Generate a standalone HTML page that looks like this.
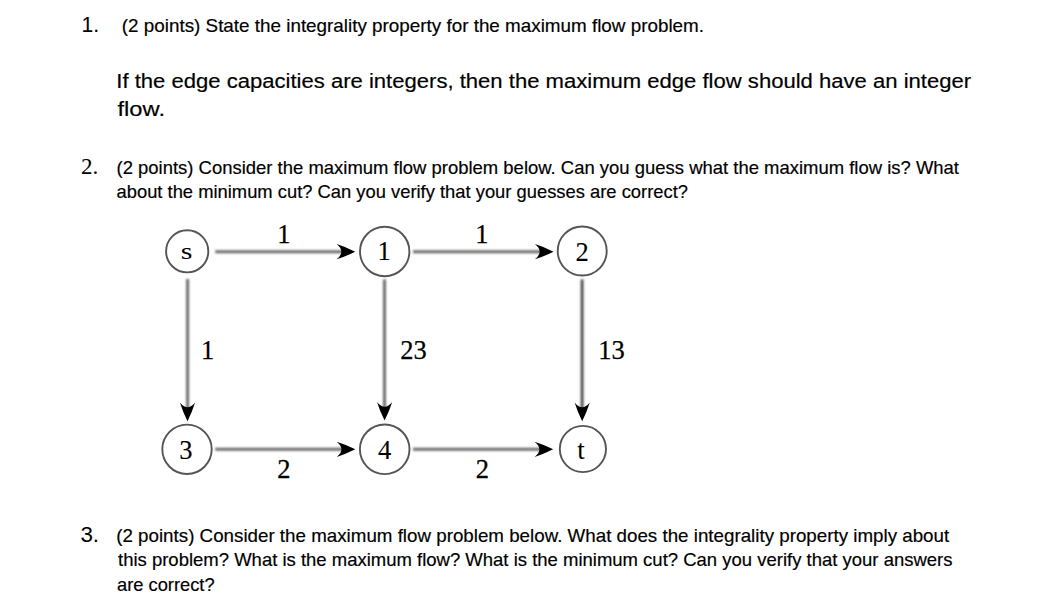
<!DOCTYPE html>
<html><head><meta charset="utf-8">
<style>
html,body{margin:0;padding:0;background:#fff;width:1057px;height:613px;overflow:hidden}
svg{display:block}
.t{font-family:"Liberation Sans",sans-serif;fill:#000;stroke:#000;stroke-width:0.18}
.m{font-family:"Liberation Serif",serif;fill:#000;stroke:#000}
.c{fill:none;stroke:#555;stroke-width:1.9}
.e{fill:none}
.h{fill:#000}
.sf{font-family:"Liberation Serif",serif;fill:#000}
.t0{font-family:"Liberation Sans",sans-serif;fill:#000}
</style></head>
<body>
<svg width="1057" height="613" viewBox="0 0 1057 613">
<text class="t0" x="81.6" y="32.2" font-size="21.5" textLength="17.6" lengthAdjust="spacingAndGlyphs">1.</text>
<text class="t" x="121.8" y="32.0" font-size="17.8" textLength="582.2" lengthAdjust="spacingAndGlyphs">(2 points) State the integrality property for the maximum flow problem.</text>
<text class="t" x="116.3" y="87.8" font-size="20.0" textLength="854.8" lengthAdjust="spacingAndGlyphs">If the edge capacities are integers, then the maximum edge flow should have an integer</text>
<text class="t" x="117.5" y="116.2" font-size="20.0" textLength="47.5" lengthAdjust="spacingAndGlyphs">flow.</text>
<text class="sf" x="81.0" y="174.2" font-size="23.0" textLength="17.3" lengthAdjust="spacingAndGlyphs">2.</text>
<text class="t" x="116.5" y="173.7" font-size="17.8" textLength="842.5" lengthAdjust="spacingAndGlyphs">(2 points) Consider the maximum flow problem below. Can you guess what the maximum flow is? What</text>
<text class="t" x="116.5" y="197.5" font-size="17.8" textLength="571.5" lengthAdjust="spacingAndGlyphs">about the minimum cut? Can you verify that your guesses are correct?</text>
<text class="t0" x="80.4" y="541.5" font-size="21.5" textLength="18.7" lengthAdjust="spacingAndGlyphs">3.</text>
<text class="t" x="116.2" y="541.5" font-size="17.8" textLength="833.0" lengthAdjust="spacingAndGlyphs">(2 points) Consider the maximum flow problem below. What does the integrality property imply about</text>
<text class="t" x="118.0" y="566.2" font-size="17.8" textLength="834.5" lengthAdjust="spacingAndGlyphs">this problem? What is the maximum flow? What is the minimum cut? Can you verify that your answers</text>
<text class="t" x="117.0" y="590.5" font-size="17.8" textLength="97.6" lengthAdjust="spacingAndGlyphs">are correct?</text>
<defs><filter id="b" filterUnits="userSpaceOnUse" x="0" y="0" width="1057" height="613"><feGaussianBlur stdDeviation="1"/></filter></defs><g>
<circle class="c" cx="187.2" cy="251.3" r="21.1"/>
<circle class="c" cx="384.7" cy="251.5" r="24.7"/>
<circle class="c" cx="582.2" cy="251" r="24.5"/>
<circle class="c" cx="187" cy="449.3" r="24.7"/>
<circle class="c" cx="384.7" cy="449.3" r="24.8"/>
<circle class="c" cx="582.9" cy="449" r="23.1"/>
<line class="e" filter="url(#b)" x1="215.2" y1="251.8" x2="345" y2="251.8" stroke="#6c6c6c" stroke-width="3.0"/>
<line class="e" filter="url(#b)" x1="413" y1="251.8" x2="543" y2="251.8" stroke="#6c6c6c" stroke-width="3.0"/>
<line class="e" filter="url(#b)" x1="215.2" y1="449.3" x2="345" y2="449.3" stroke="#6c6c6c" stroke-width="3.0"/>
<line class="e" filter="url(#b)" x1="413" y1="449.3" x2="543" y2="449.3" stroke="#6c6c6c" stroke-width="3.0"/>
<line class="e" filter="url(#b)" x1="187.6" y1="279" x2="187.6" y2="411" stroke="#6c6c6c" stroke-width="3.0"/>
<line class="e" filter="url(#b)" x1="384.5" y1="279.4" x2="384.5" y2="411" stroke="#6a6a6a" stroke-width="3.0"/>
<line class="e" filter="url(#b)" x1="582.1" y1="279.4" x2="582.1" y2="411" stroke="#383838" stroke-width="2.6"/>
<path class="h" d="M355.20 251.70 Q345.90 247.00 336.60 244.10 Q346.10 251.70 336.60 259.30 Q345.90 256.40 355.20 251.70Z"/>
<path class="h" d="M553.50 251.70 Q544.20 247.00 534.90 244.10 Q544.40 251.70 534.90 259.30 Q544.20 256.40 553.50 251.70Z"/>
<path class="h" d="M355.30 449.30 Q346.00 444.60 336.70 441.70 Q346.20 449.30 336.70 456.90 Q346.00 454.00 355.30 449.30Z"/>
<path class="h" d="M553.20 449.30 Q543.90 444.60 534.60 441.70 Q544.10 449.30 534.60 456.90 Q543.90 454.00 553.20 449.30Z"/>
<path class="h" d="M187.50 421.20 Q182.80 411.90 179.90 402.60 Q187.50 412.10 195.10 402.60 Q192.20 411.90 187.50 421.20Z"/>
<path class="h" d="M384.60 420.50 Q379.90 411.20 377.00 401.90 Q384.60 411.40 392.20 401.90 Q389.30 411.20 384.60 420.50Z"/>
<path class="h" d="M582.20 421.20 Q577.50 411.90 574.60 402.60 Q582.20 412.10 589.80 402.60 Q586.90 411.90 582.20 421.20Z"/>
<text class="m" x="283.9" y="243.2" font-size="26.5" stroke-width="0.25" text-anchor="middle">1</text>
<text class="m" x="481.9" y="243.2" font-size="26.5" stroke-width="0.25" text-anchor="middle">1</text>
<text class="m" x="207.7" y="358.5" font-size="26.5" stroke-width="0.25" text-anchor="middle">1</text>
<text class="m" x="413.5" y="358.9" font-size="26.5" stroke-width="0.25" text-anchor="middle">23</text>
<text class="m" x="611.6" y="358.6" font-size="26.5" stroke-width="0.25" text-anchor="middle">13</text>
<text class="m" x="283.9" y="477.5" font-size="26.5" stroke-width="0.3" text-anchor="middle">2</text>
<text class="m" x="482.3" y="477.5" font-size="26.5" stroke-width="0.3" text-anchor="middle">2</text>
<text class="m" transform="translate(186.5,258.6) scale(1.25,1)" x="0" y="0" font-size="24" stroke-width="0" text-anchor="middle">s</text>
<text class="m" x="384" y="260" font-size="26.5" stroke-width="0.15" text-anchor="middle">1</text>
<text class="m" x="582.1" y="261.1" font-size="26.5" stroke-width="0.1" text-anchor="middle">2</text>
<text class="m" x="185.8" y="458.9" font-size="26.5" stroke-width="0.1" text-anchor="middle">3</text>
<text class="m" x="384.6" y="458.9" font-size="26.5" stroke-width="0.1" text-anchor="middle">4</text>
<text class="m" x="581" y="459.0" font-size="27" stroke-width="0" text-anchor="middle">t</text>
</g>
</svg>
</body></html>
